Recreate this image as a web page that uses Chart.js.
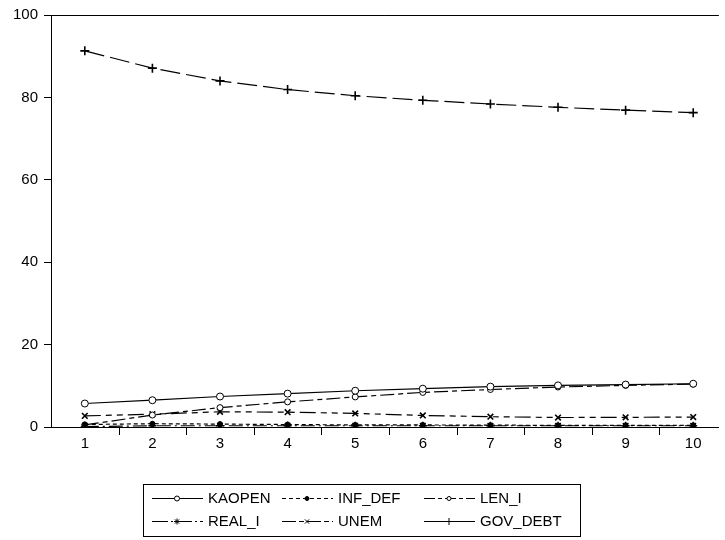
<!DOCTYPE html>
<html>
<head>
<meta charset="utf-8">
<script src="https://cdn.jsdelivr.net/npm/chart.js@4.4.0/dist/chart.umd.min.js"></script>
<style>
  body { margin: 0; background: #fff; }
  canvas { display: block; }
</style>
</head>
<body>
<canvas id="dataGraph" width="725" height="540"></canvas>
<script>
// Periodos (eje x)
const periods = [1, 2, 3, 4, 5, 6, 7, 8, 9, 10];
const yTicks = [0, 20, 40, 60, 80, 100];

// Series
const kaopen  = [5.7, 6.5, 7.4, 8.1, 8.8, 9.3, 9.8, 10.1, 10.3, 10.5];
const infDef  = [0.6, 0.8, 0.7, 0.6, 0.5, 0.5, 0.45, 0.4, 0.4, 0.4];
const lenI    = [0.5, 2.9, 4.7, 6.1, 7.3, 8.4, 9.1, 9.7, 10.1, 10.4];
const realI   = [0.1, 0.3, 0.3, 0.3, 0.3, 0.3, 0.3, 0.3, 0.3, 0.3];
const unem    = [2.7, 3.1, 3.7, 3.6, 3.3, 2.8, 2.5, 2.3, 2.35, 2.4];
const govDebt = [91.3, 87.1, 84.0, 81.9, 80.4, 79.3, 78.4, 77.6, 76.9, 76.3];

const labels = ['KAOPEN', 'INF_DEF', 'LEN_I', 'REAL_I', 'UNEM', 'GOV_DEBT'];

function toPoints(vals) {
    return periods.map((p, i) => ({ x: p, y: vals[i] }));
}

function serie(label, vals, dash, legDash, style, radius, fill, bw) {
    return {
        label: label,
        data: toPoints(vals),
        borderColor: '#000',
        borderWidth: 1.2,
        borderDash: dash,
        legendDash: legDash, // patron corto para la muestra de la leyenda
        pointStyle: style,
        pointRadius: radius,
        pointBackgroundColor: fill,
        pointBorderColor: '#000',
        pointBorderWidth: bw,
        fill: false,
        tension: 0
    };
}

// leyenda en recuadro, 3 columnas x 2 filas
const legendBox = {
    id: 'legendBox',
    afterDraw(chart) {
        const ctx = chart.ctx;
        const H = Chart.helpers;
        ctx.save();
        ctx.setLineDash([]);
        ctx.strokeStyle = '#000';
        ctx.lineWidth = 1;
        ctx.strokeRect(143.5, 484.5, 437, 52);

        const cols = [152, 282, 424];
        const rows = [498, 521];
        ctx.font = '15px "Liberation Sans", Arial, sans-serif';
        ctx.textBaseline = 'middle';
        chart.data.datasets.forEach((ds, i) => {
            const x0 = cols[i % 3];
            const y = rows[Math.floor(i / 3)] + 0.5;
            ctx.strokeStyle = '#000';
            ctx.lineWidth = 1;
            ctx.setLineDash(ds.legendDash);
            ctx.beginPath();
            ctx.moveTo(x0, y);
            ctx.lineTo(x0 + 51, y);
            ctx.stroke();
            ctx.setLineDash([]);
            ctx.fillStyle = ds.pointBackgroundColor;
            H.drawPoint(ctx, {
                pointStyle: ds.pointStyle,
                radius: Math.max(2, ds.pointRadius - 1),
                rotation: 0,
                borderWidth: 1
            }, x0 + 25, y);
            ctx.fillStyle = '#000';
            ctx.fillText(ds.label, x0 + 56, y);
        });
        ctx.restore();
    }
};

// borde superior y marcas del eje x entre periodos
const frame = {
    id: 'frame',
    afterDraw(chart) {
        const ctx = chart.ctx;
        const a = chart.chartArea;
        const xs = chart.scales.x;
        ctx.save();
        ctx.setLineDash([]);
        ctx.strokeStyle = '#000';
        ctx.lineWidth = 1;
        ctx.beginPath();
        ctx.moveTo(a.left, a.top + 0.5);
        ctx.lineTo(a.right, a.top + 0.5);
        periods.forEach(p => {
            const px = Math.round(xs.getPixelForValue(p + 0.5)) + 0.5;
            if (px < a.right) {
                ctx.moveTo(px, a.bottom);
                ctx.lineTo(px, a.bottom + 8);
            }
        });
        ctx.stroke();
        ctx.restore();
    }
};

window.onload = function() {
    const ctx = document.getElementById('dataGraph').getContext('2d');
    new Chart(ctx, {
        type: 'line',
        data: {
            datasets: [
                serie(labels[0], kaopen, [], [], 'circle', 3.5, '#fff', 1),
                serie(labels[1], infDef, [4, 3], [4, 3], 'circle', 2.5, '#000', 1),
                serie(labels[2], lenI, [14, 4, 5, 4], [11, 3, 4, 3], 'circle', 3, '#fff', 1),
                serie(labels[3], realI, [14, 4, 2, 4], [16, 3, 2, 3], 'star', 4, '#000', 1.3),
                serie(labels[4], unem, [16, 5, 6, 5, 6, 5], [14, 3, 5, 3], 'crossRot', 4, '#000', 1.6),
                serie(labels[5], govDebt, [20, 6], [], 'cross', 4.5, '#000', 1.6)
            ]
        },
        options: {
            responsive: false,
            animation: false,
            devicePixelRatio: 1,
            layout: { padding: { top: 14, left: 0, right: 0, bottom: 0 } },
            plugins: {
                legend: { display: false },
                tooltip: { enabled: false }
            },
            scales: {
                x: {
                    type: 'linear',
                    min: 0.5,
                    max: 10.38,
                    afterBuildTicks: s => { s.ticks = periods.map(v => ({ value: v })); },
                    afterFit: s => { s.height = 113; },
                    grid: { display: false, drawTicks: false },
                    border: { display: true, color: '#000', width: 1 },
                    ticks: {
                        color: '#000',
                        padding: 8,
                        maxRotation: 0,
                        autoSkip: false,
                        font: { family: '"Liberation Sans", Arial, sans-serif', size: 15 },
                        callback: v => String(v)
                    }
                },
                y: {
                    min: 0,
                    max: 100,
                    afterBuildTicks: s => { s.ticks = yTicks.map(v => ({ value: v })); },
                    afterFit: s => { s.width = 51; },
                    grid: { drawOnChartArea: false, drawTicks: true, tickLength: 7, color: '#000' },
                    border: { display: true, color: '#000', width: 1 },
                    ticks: {
                        color: '#000',
                        padding: 6,
                        font: { family: '"Liberation Sans", Arial, sans-serif', size: 15 }
                    }
                }
            }
        },
        plugins: [legendBox, frame]
    });
};
</script>
</body>
</html>
